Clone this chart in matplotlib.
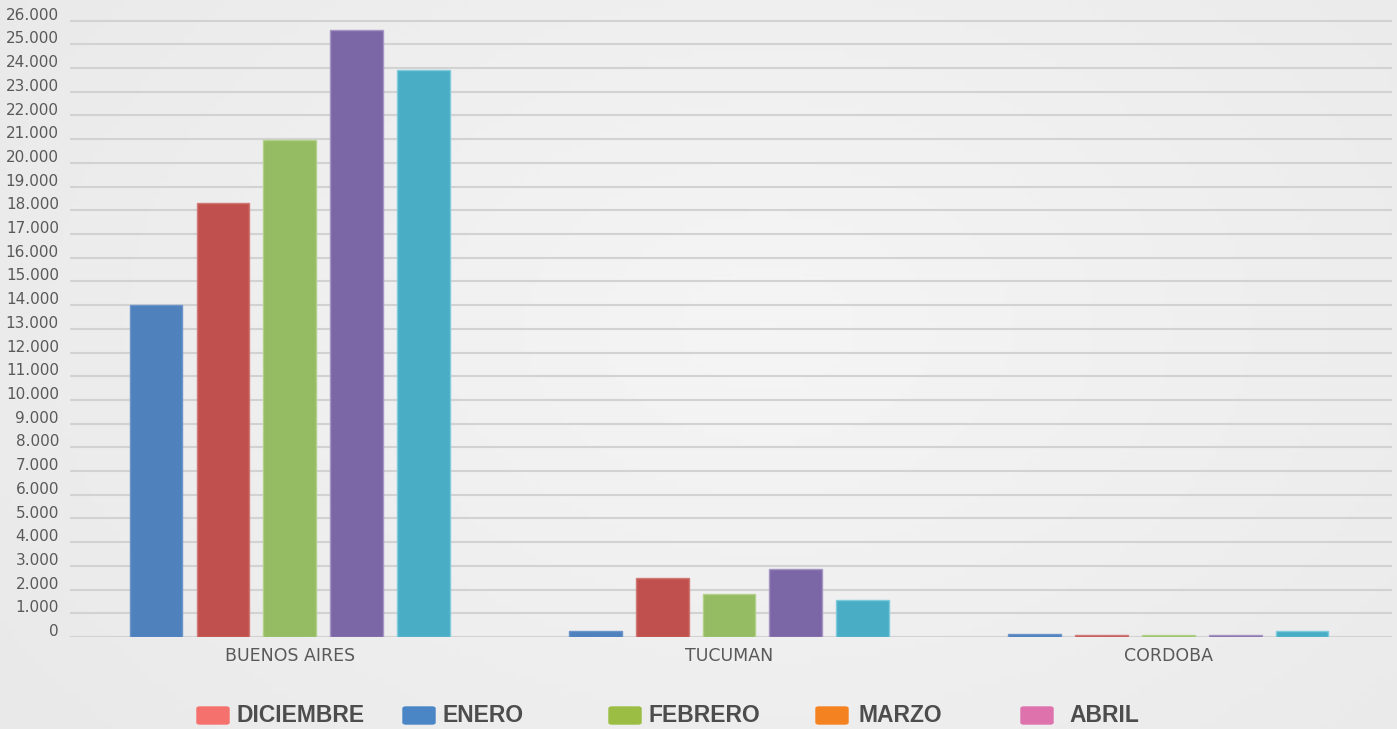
import matplotlib.pyplot as plt
import numpy as np
from matplotlib.transforms import ScaledTranslation
from matplotlib.patches import FancyBboxPatch
from matplotlib.colors import LinearSegmentedColormap

# datos
provincias = ['BUENOS AIRES', 'TUCUMAN', 'CORDOBA']
meses = ['DICIEMBRE', 'ENERO', 'FEBRERO', 'MARZO', 'ABRIL']
valores = {
    'DICIEMBRE': [14000, 250, 130],
    'ENERO': [18300, 2500, 80],
    'FEBRERO': [20950, 1830, 80],
    'MARZO': [25600, 2880, 80],
    'ABRIL': [23900, 1560, 250],
}
colores_barras = ['#4f81bd', '#c0504d', '#95bc63', '#7b67a6', '#48adc5']
bordes_barras = ['#6b95c8', '#d07a77', '#b2d08a', '#a594c4', '#7fcbdc']
colores_leyenda = ['#f4716e', '#4a86c5', '#9bbd44', '#f58220', '#dd72ad']
yticks = np.arange(0, 27000, 1000)
ytick_labels = ['0'] + [f'{v // 1000}.000' for v in yticks[1:]]

fig = plt.figure(figsize=(13.97, 7.29), dpi=100)

# fondo degradado
bg = fig.add_axes([0, 0, 1, 1], zorder=-1)
xx, yy = np.meshgrid(np.linspace(0, 1, 200), np.linspace(0, 1, 100))
grad = 1 - np.sqrt(((xx - 0.55) * 1.2) ** 2 + ((yy - 0.45) * 0.9) ** 2)
bg.imshow(grad, cmap=LinearSegmentedColormap.from_list('g', ['#e9e9e9', '#f5f5f5']),
          aspect='auto', extent=[0, 1, 0, 1], origin='upper')
bg.axis('off')

ax = fig.add_axes([70 / 1397, 92 / 729, 1322 / 1397, 618.7 / 729])
ax.set_facecolor('none')

x = np.arange(len(provincias))
ancho = 0.12
paso = 0.152
for i, mes in enumerate(meses):
    ax.bar(x + (i - 2) * paso, valores[mes], width=ancho, color=colores_barras[i],
           edgecolor=bordes_barras[i], linewidth=1, zorder=3, label=mes)

ax.set_xlim(-0.5, 2.509)
ax.set_ylim(0, 26100)
ax.set_yticks(yticks)
ax.set_yticklabels(ytick_labels)
ax.set_xticks(x)
ax.set_xticklabels(provincias)
ax.yaxis.grid(True, color='#d2d2d2', linewidth=1.5, zorder=0)
ax.set_axisbelow(True)
for s in ax.spines.values():
    s.set_visible(False)
ax.tick_params(axis='both', length=0, colors='#595959', labelsize=11)
ax.tick_params(axis='x', labelsize=12.5, pad=7)
ax.tick_params(axis='y', pad=8)
for lab in ax.get_yticklabels():
    lab.set_transform(lab.get_transform() + ScaledTranslation(0, 5 / 72, fig.dpi_scale_trans))

# leyenda
pos_cuadro = [197, 403, 609, 816, 1021]
pos_texto = [236, 442, 649, 859, 1069]
for i, mes in enumerate(meses):
    fig.patches.append(FancyBboxPatch((pos_cuadro[i] / 1397, 1 - 724 / 729), 32 / 1397, 17 / 729,
                                      boxstyle='round,pad=0,rounding_size=0.002',
                                      transform=fig.transFigure, color=colores_leyenda[i]))
    fig.text(pos_texto[i] / 1397, 1 - 716 / 729, mes, fontsize=16.5, fontweight='bold',
             family=['Liberation Sans', 'DejaVu Sans'], color='#4d4d4d', va='center', ha='left')

fig.savefig('out.png', dpi=100)
